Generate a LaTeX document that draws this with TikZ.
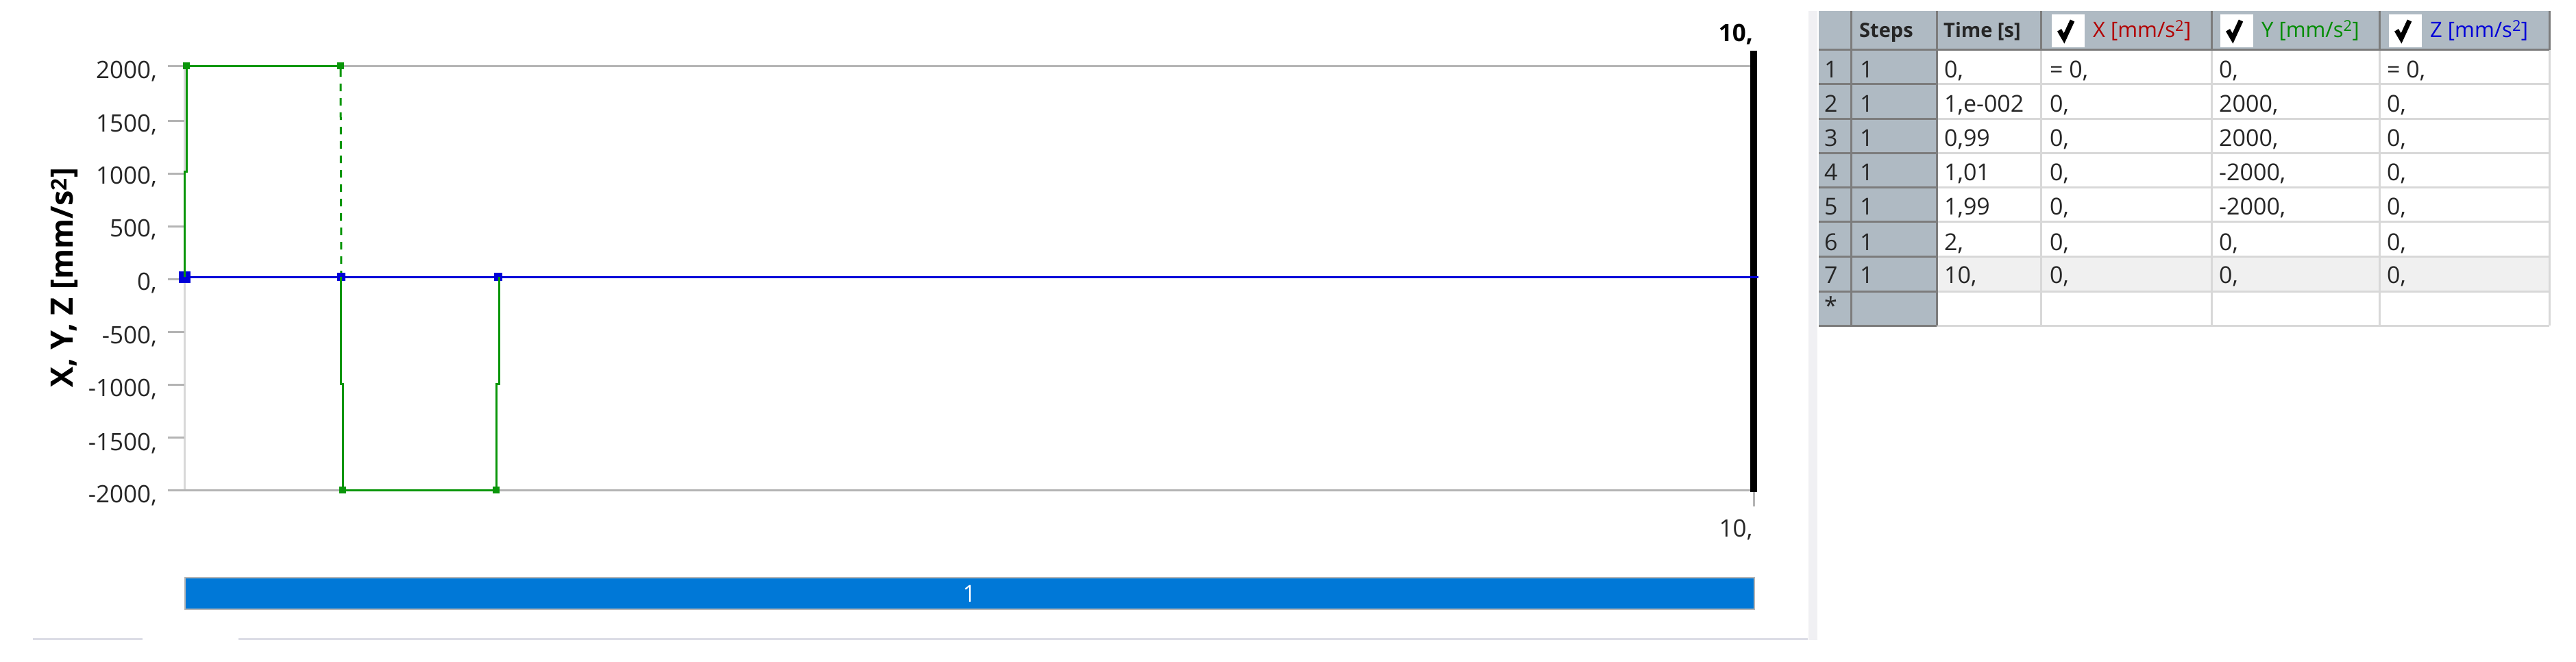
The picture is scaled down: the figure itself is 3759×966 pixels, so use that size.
\documentclass[tikz,border=0pt]{standalone}
\usepackage{fontspec}
\setmainfont{Open Sans}
\usetikzlibrary{positioning}

\definecolor{curveg}{HTML}{0A960A}
\definecolor{curveb}{HTML}{0000D8}
\definecolor{axisgray}{HTML}{B4B4B4}
\definecolor{barblue}{HTML}{0078D7}
\definecolor{headgray}{HTML}{AFBAC3}
\definecolor{gridgray}{HTML}{D8D8D8}
\definecolor{sepgray}{HTML}{7C7C7C}
\definecolor{paneline}{HTML}{DCDDE6}
\definecolor{panegray}{HTML}{F0F0F3}

\tikzset{
	ticklabel/.style={anchor=base east, inner sep=0pt, font=\fontsize{35}{35}\selectfont, text=black!85},
	axistick/.style={axisgray, line width=3pt},
	greenpt/.style={draw=none, fill=curveg, minimum size=10pt, inner sep=0pt},
	bluept/.style={draw=none, fill=curveb, minimum size=12pt, inner sep=0pt},
	greenline/.style={curveg, line width=3pt},
	cell/.style={anchor=base west, inner sep=0pt, font=\fontsize{34}{34}\selectfont, text=black!85},
	headcell/.style={anchor=base west, inner sep=0pt, font=\fontsize{29}{29}\selectfont\bfseries, text=black!85},
	unitcell/.style={anchor=base west, inner sep=0pt, font=\fontsize{31}{31}\selectfont},
	checkbox/.style={fill=white, minimum size=48pt, inner sep=0pt},
	checkmark/.style={black, line width=7pt}
}

\begin{document}
\begin{tikzpicture}[x=1pt, y=-1pt]
		\useasboundingbox[fill=white] (0,0) rectangle (3759,966);

		% Window edges
		\fill[panegray] (2639,16) rectangle (2652,934);
		\draw[paneline, line width=3pt] (48,932) -- (208,932);
		\draw[paneline, line width=3pt] (348,932) -- (2638,932);

		% Axes of the chart
		\draw[gridgray, line width=3pt] (269,96) -- (269,715);
		\draw[axistick] (245,96) -- (2555,96);
		\draw[axistick] (245,715) -- (2555,715);
		\draw[axistick] (245,176) -- (269,176);
		\draw[axistick] (245,253) -- (269,253);
		\draw[axistick] (245,330) -- (269,330);
		\draw[axistick] (245,407) -- (269,407);
		\draw[axistick] (245,484) -- (269,484);
		\draw[axistick] (245,561) -- (269,561);
		\draw[axistick] (245,638) -- (269,638);
		\draw[axistick] (2559,715) -- (2559,739);

		% Tick labels
		\node[ticklabel] (l1) at (229,114) {2000,};
		\node[ticklabel] (l2) at (229,192) {1500,};
		\node[ticklabel] (l3) at (229,268) {1000,};
		\node[ticklabel] (l4) at (229,345) {500,};
		\node[ticklabel] (l5) at (229,423) {0,};
		\node[ticklabel] (l6) at (229,501) {-500,};
		\node[ticklabel] (l7) at (229,578) {-1000,};
		\node[ticklabel] (l8) at (229,657) {-1500,};
		\node[ticklabel] (l9) at (229,733) {-2000,};
		\node[rotate=90, inner sep=0pt, font=\fontsize{45}{45}\selectfont\bfseries] (ylabel) at (94,405) {X, Y, Z [mm/s\textsuperscript{2}]};

		% Points of the green curve
		\node[greenpt] (g1) at (272,96) {};
		\node[greenpt] (g2) at (497,96) {};
		\node[greenpt] (g3) at (500,715) {};
		\node[greenpt] (g4) at (724,715) {};
		\coordinate (g1a) at (272,250);
		\coordinate (g1b) at (269,250);
		\coordinate (g1c) at (269,404);
		\coordinate (g2a) at (497,404);
		\coordinate (g3a) at (497,560);
		\coordinate (g3b) at (500,560);
		\coordinate (g4a) at (724,560);
		\coordinate (g4b) at (728,560);
		\coordinate (g4c) at (728,404);

		% Points of the blue curve
		\node[bluept, minimum size=17pt] (b1) at (269,404) {};
		\node[bluept] (b2) at (498,404) {};
		\node[bluept] (b3) at (727,404) {};
		\coordinate (b4) at (2566,404);

		% Green curve
		\draw[greenline] (g1c) -- (g1b) -- (g1a) -- (g1) -- (g2);
		\draw[greenline, dashed, dash pattern=on 11pt off 10pt] (g2) -- (b2);
		\draw[greenline] (g2a) -- (g3a) -- (g3b) -- (g3) -- (g4) -- (g4a) -- (g4b) -- (g4c);

		% Blue curve and end marker
		\node[fill=black, minimum width=10pt, minimum height=644pt, inner sep=0pt] (endbar) at (2559,396) {};
		\draw[curveb, line width=3pt] (b1) -- (b2) -- (b3) -- (b4);
		\node[inner sep=0pt, anchor=base, font=\fontsize{35}{35}\selectfont\bfseries] (ttop) at (2533,60) {10,};
		\node[inner sep=0pt, anchor=base, font=\fontsize{35}{35}\selectfont, text=black!85] (tbot) at (2533,783) {10,};

		% Step bar
		\node[fill=barblue, draw=axisgray, line width=2pt, minimum width=2290pt, minimum height=46pt, inner sep=0pt, text=white, font=\fontsize{34}{34}\selectfont] (stepbar) at (1414.5,866) {1};

		% Table backgrounds
		\fill[headgray] (2654,16) rectangle (3720,73);
		\fill[headgray] (2654,73) rectangle (2826,475);
		\fill[black!6] (2826,374) rectangle (3720,425);

		% Table lines
		\draw[gridgray, line width=3pt] (2826,122) -- (3720,122);
		\draw[gridgray, line width=3pt] (2826,173) -- (3720,173);
		\draw[gridgray, line width=3pt] (2826,223) -- (3720,223);
		\draw[gridgray, line width=3pt] (2826,273) -- (3720,273);
		\draw[gridgray, line width=3pt] (2826,323) -- (3720,323);
		\draw[gridgray, line width=3pt] (2826,374) -- (3720,374);
		\draw[gridgray, line width=3pt] (2826,425) -- (3720,425);
		\draw[gridgray, line width=3pt] (2826,475) -- (3720,475);
		\draw[gridgray, line width=3pt] (2978,73) -- (2978,475);
		\draw[gridgray, line width=3pt] (3227,73) -- (3227,475);
		\draw[gridgray, line width=3pt] (3472,73) -- (3472,475);
		\draw[gridgray, line width=3pt] (3720,73) -- (3720,475);
		\draw[sepgray, line width=3pt] (2654,73) -- (3720,73);
		\draw[sepgray, line width=3pt] (2654,122) -- (2826,122);
		\draw[sepgray, line width=3pt] (2654,173) -- (2826,173);
		\draw[sepgray, line width=3pt] (2654,223) -- (2826,223);
		\draw[sepgray, line width=3pt] (2654,273) -- (2826,273);
		\draw[sepgray, line width=3pt] (2654,323) -- (2826,323);
		\draw[sepgray, line width=3pt] (2654,374) -- (2826,374);
		\draw[sepgray, line width=3pt] (2654,425) -- (2826,425);
		\draw[sepgray, line width=3pt] (2654,475) -- (2826,475);
		\draw[sepgray, line width=3pt] (2701,16) -- (2701,475);
		\draw[sepgray, line width=3pt] (2826,16) -- (2826,475);
		\draw[sepgray, line width=3pt] (2978,16) -- (2978,73);
		\draw[sepgray, line width=3pt] (3227,16) -- (3227,73);
		\draw[sepgray, line width=3pt] (3472,16) -- (3472,73);
		\draw[sepgray, line width=3pt] (3720,16) -- (3720,73);

		% Table header
		\node[headcell] (hsteps) at (2713,55) {Steps};
		\node[headcell] (htime) at (2836,55) {Time [s]};
		\node[checkbox] (cx) at (3018,45) {};
		\node[checkbox] (cy) at (3264,45) {};
		\node[checkbox] (cz) at (3510,45) {};
		\draw[checkmark] (3005,44) -- (3012,56) -- (3024,30);
		\draw[checkmark] (3251,44) -- (3258,56) -- (3270,30);
		\draw[checkmark] (3497,44) -- (3504,56) -- (3516,30);
		\node[unitcell, text=red!70!black] (hx) at (3054,55) {X [mm/s\textsuperscript{2}]};
		\node[unitcell, text=green!55!black] (hy) at (3300,55) {Y [mm/s\textsuperscript{2}]};
		\node[unitcell, text=curveb] (hz) at (3546,55) {Z [mm/s\textsuperscript{2}]};

		% Row 1
		\node[cell] (n1) at (2662,113) {1};
		\node[cell] (s1) at (2714,113) {1};
		\node[cell] (t1) at (2837,113) {0,};
		\node[cell] (x1) at (2991,113) {= 0,};
		\node[cell] (y1) at (3238,113) {0,};
		\node[cell] (z1) at (3483,113) {= 0,};

		% Row 2
		\node[cell] (n2) at (2662,163) {2};
		\node[cell] (s2) at (2714,163) {1};
		\node[cell] (t2) at (2837,163) {1,e-002};
		\node[cell] (x2) at (2991,163) {0,};
		\node[cell] (y2) at (3238,163) {2000,};
		\node[cell] (z2) at (3483,163) {0,};

		% Row 3
		\node[cell] (n3) at (2662,213) {3};
		\node[cell] (s3) at (2714,213) {1};
		\node[cell] (t3) at (2837,213) {0,99};
		\node[cell] (x3) at (2991,213) {0,};
		\node[cell] (y3) at (3238,213) {2000,};
		\node[cell] (z3) at (3483,213) {0,};

		% Row 4
		\node[cell] (n4) at (2662,263) {4};
		\node[cell] (s4) at (2714,263) {1};
		\node[cell] (t4) at (2837,263) {1,01};
		\node[cell] (x4) at (2991,263) {0,};
		\node[cell] (y4) at (3238,263) {-2000,};
		\node[cell] (z4) at (3483,263) {0,};

		% Row 5
		\node[cell] (n5) at (2662,313) {5};
		\node[cell] (s5) at (2714,313) {1};
		\node[cell] (t5) at (2837,313) {1,99};
		\node[cell] (x5) at (2991,313) {0,};
		\node[cell] (y5) at (3238,313) {-2000,};
		\node[cell] (z5) at (3483,313) {0,};

		% Row 6
		\node[cell] (n6) at (2662,365) {6};
		\node[cell] (s6) at (2714,365) {1};
		\node[cell] (t6) at (2837,365) {2,};
		\node[cell] (x6) at (2991,365) {0,};
		\node[cell] (y6) at (3238,365) {0,};
		\node[cell] (z6) at (3483,365) {0,};

		% Row 7
		\node[cell] (n7) at (2662,413) {7};
		\node[cell] (s7) at (2714,413) {1};
		\node[cell] (t7) at (2837,413) {10,};
		\node[cell] (x7) at (2991,413) {0,};
		\node[cell] (y7) at (3238,413) {0,};
		\node[cell] (z7) at (3483,413) {0,};

		% Last row
		\node[cell] (n8) at (2662,458) {*};
	\end{tikzpicture}
\end{document}
